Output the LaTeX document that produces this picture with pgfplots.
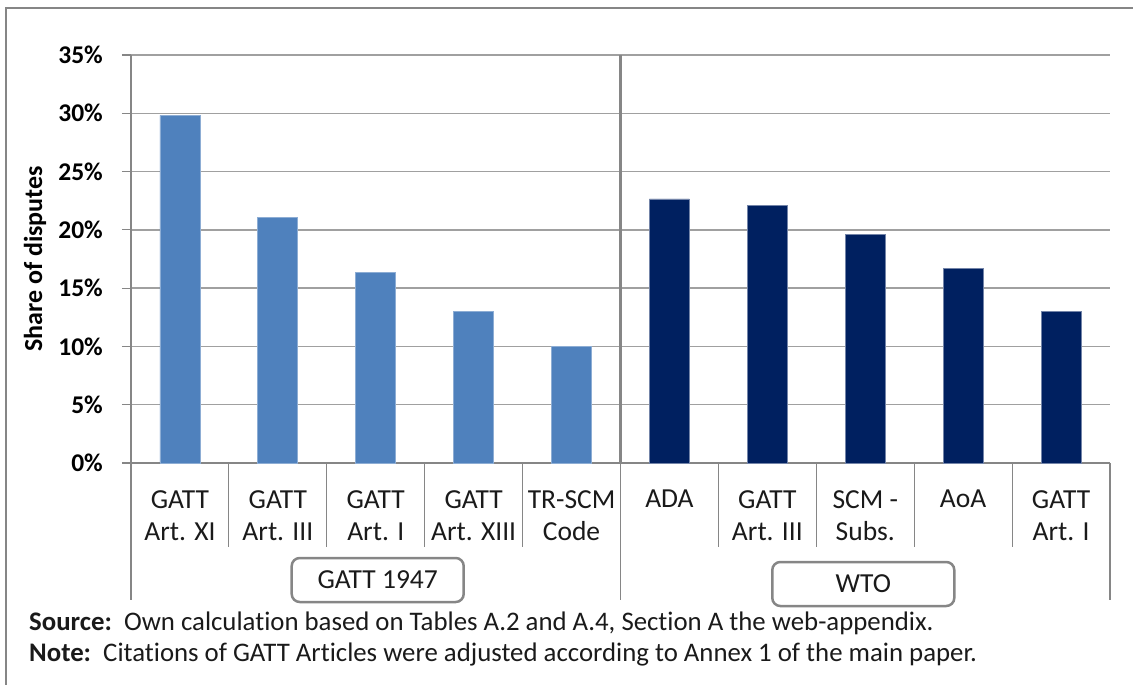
\documentclass[border=0pt]{standalone}
\usepackage{fontspec}
\setmainfont[Ligatures=NoCommon]{Carlito}
\usepackage{pgfplots}
\pgfplotsset{compat=1.18}
\definecolor{lblue}{HTML}{4F81BD}
\definecolor{dblue}{HTML}{002060}
\definecolor{gridc}{HTML}{A0A0A0}
\definecolor{sepc}{HTML}{868686}
\definecolor{txt}{HTML}{1A1A1A}
\begin{document}
\begin{tikzpicture}
\useasboundingbox (-131pt,-222pt) rectangle (1002pt,463pt);
\draw[sepc, line width=2pt] (1040pt,455pt) -- (-124.5pt,455pt) -- (-124.5pt,-240pt);
\begin{axis}[
  at={(0pt,0pt)}, anchor=south west,
  scale only axis, width=979pt, height=408pt,
  xmin=-0.5, xmax=9.5, ymin=0, ymax=35,
  axis x line*=bottom, axis y line*=left,
  axis line style={draw=sepc, line width=1.2pt},
  clip=false,
  ytick={0,5,...,35},
  yticklabels={0\%,5\%,10\%,15\%,20\%,25\%,30\%,35\%},
  ymajorgrids, grid style={gridc, line width=1.3pt},
  tick align=outside, major tick length=9pt,
  ytick style={draw=sepc, line width=1.2pt},
  xtick={0,...,9}, xtick style={draw=none},
  xticklabels={{GATT\\Art. XI},{GATT\\Art. III},{GATT\\Art. I},{GATT\\Art. XIII},{TR-SCM\\Code},{ADA},{GATT\\Art. III},{SCM -\\Subs.},{AoA},{GATT\\Art. I}},
  xticklabel style={align=center, font=\fontsize{27.5}{32}\selectfont, text=txt, anchor=north, inner sep=0pt, yshift=-18pt},
  yticklabel style={font=\bfseries\fontsize{25.5}{30}\selectfont, text=black, anchor=east, inner sep=0pt, xshift=-19pt},
  ylabel={Share of disputes},
  ylabel style={font=\bfseries\fontsize{26}{30}\selectfont, at={(axis description cs:-0.0909,0.5)}, anchor=base},
  ybar, bar width=40pt,
]
\addplot[bar shift=0pt, fill=lblue, draw=lblue!65!white, line width=0.8pt] coordinates {
  (0,29.83) (1,21.03) (2,16.32) (3,13.0) (4,9.97)};
\addplot[bar shift=0pt, fill=dblue, draw=dblue!55!white, line width=0.8pt] coordinates {
  (5,22.65) (6,22.11) (7,19.6) (8,16.66) (9,13.0)};
\draw[sepc, line width=3pt] (axis cs:4.5,0) -- (axis cs:4.5,35);
\draw[sepc, line width=1.2pt] (axis cs:-0.5,0) -- ([yshift=-137pt]axis cs:-0.5,0);
\draw[sepc, line width=1.2pt] (axis cs:4.5,0) -- ([yshift=-137pt]axis cs:4.5,0);
\draw[sepc, line width=1.2pt] (axis cs:9.5,0) -- ([yshift=-137pt]axis cs:9.5,0);
\draw[sepc, line width=1.2pt] (axis cs:0.5,0) -- ([yshift=-84pt]axis cs:0.5,0);
\draw[sepc, line width=1.2pt] (axis cs:1.5,0) -- ([yshift=-84pt]axis cs:1.5,0);
\draw[sepc, line width=1.2pt] (axis cs:2.5,0) -- ([yshift=-84pt]axis cs:2.5,0);
\draw[sepc, line width=1.2pt] (axis cs:3.5,0) -- ([yshift=-84pt]axis cs:3.5,0);
\draw[sepc, line width=1.2pt] (axis cs:5.5,0) -- ([yshift=-84pt]axis cs:5.5,0);
\draw[sepc, line width=1.2pt] (axis cs:6.5,0) -- ([yshift=-84pt]axis cs:6.5,0);
\draw[sepc, line width=1.2pt] (axis cs:7.5,0) -- ([yshift=-84pt]axis cs:7.5,0);
\draw[sepc, line width=1.2pt] (axis cs:8.5,0) -- ([yshift=-84pt]axis cs:8.5,0);
\node[draw=sepc, line width=2.5pt, rounded corners=8pt, minimum width=172pt, minimum height=44pt, inner sep=0pt, font=\fontsize{27.5}{32}\selectfont, text=txt, yshift=-117pt] at (axis cs:2.02,0) {GATT 1947};
\node[draw=sepc, line width=2.5pt, rounded corners=8pt, minimum width=182pt, minimum height=44pt, inner sep=0pt, font=\fontsize{27.5}{32}\selectfont, text=txt, yshift=-121pt] at (axis cs:6.98,0) {WTO};
\end{axis}
\node[anchor=base west, inner sep=0pt, font=\fontsize{26.8}{31}\selectfont, text=txt] at (-102pt,-168pt) {\textbf{Source:}\ \ Own calculation based on Tables A.2 and A.4, Section A the web-appendix.};
\node[anchor=base west, inner sep=0pt, font=\fontsize{26.8}{31}\selectfont, text=txt] at (-102pt,-199pt) {\textbf{Note:}\ \ Citations of GATT Articles were adjusted according to Annex 1 of the main paper.};
\end{tikzpicture}
\end{document}
